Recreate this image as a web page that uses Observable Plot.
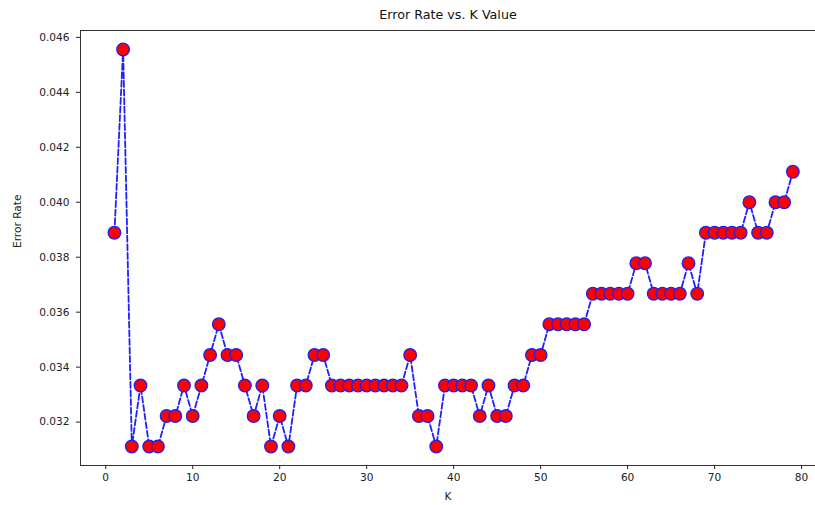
<!DOCTYPE html>
<html>
<head>
<meta charset="utf-8">
<script src="https://cdn.jsdelivr.net/npm/d3@7"></script>
<script src="https://cdn.jsdelivr.net/npm/@observablehq/plot@0.6"></script>
<style>
  html, body { margin: 0; padding: 0; background: #fff; }
  svg { display: block; }
</style>
</head>
<body>
<div id="chart"></div>
<script>
const kValues = [
   1,  2,  3,  4,  5,  6,  7,  8,  9, 10,
  11, 12, 13, 14, 15, 16, 17, 18, 19, 20,
  21, 22, 23, 24, 25, 26, 27, 28, 29, 30,
  31, 32, 33, 34, 35, 36, 37, 38, 39, 40,
  41, 42, 43, 44, 45, 46, 47, 48, 49, 50,
  51, 52, 53, 54, 55, 56, 57, 58, 59, 60,
  61, 62, 63, 64, 65, 66, 67, 68, 69, 70,
  71, 72, 73, 74, 75, 76, 77, 78, 79
];
const errorRates = [
  0.03889, 0.04556, 0.03111, 0.03333, 0.03111, 0.03111, 0.03222, 0.03222, 0.03333, 0.03222,
  0.03333, 0.03444, 0.03556, 0.03444, 0.03444, 0.03333, 0.03222, 0.03333, 0.03111, 0.03222,
  0.03111, 0.03333, 0.03333, 0.03444, 0.03444, 0.03333, 0.03333, 0.03333, 0.03333, 0.03333,
  0.03333, 0.03333, 0.03333, 0.03333, 0.03444, 0.03222, 0.03222, 0.03111, 0.03333, 0.03333,
  0.03333, 0.03333, 0.03222, 0.03333, 0.03222, 0.03222, 0.03333, 0.03333, 0.03444, 0.03444,
  0.03556, 0.03556, 0.03556, 0.03556, 0.03556, 0.03667, 0.03667, 0.03667, 0.03667, 0.03667,
  0.03778, 0.03778, 0.03667, 0.03667, 0.03667, 0.03667, 0.03778, 0.03667, 0.03889, 0.03889,
  0.03889, 0.03889, 0.03889, 0.04000, 0.03889, 0.03889, 0.04000, 0.04000, 0.04111
];
const xTicks = [0, 10, 20, 30, 40, 50, 60, 70, 80];
const yTicks = [0.032, 0.034, 0.036, 0.038, 0.040, 0.042, 0.044, 0.046];
const titleText = "Error Rate vs. K Value";
const xLabel = "K";
const yLabel = "Error Rate";

const data = kValues.map((k, i) => ({k, err: errorRates[i]}));

const xDomain = [-2.9, 81.6];
const yDomain = [0.03042, 0.04625];

const font = "DejaVu Sans, sans-serif";
const spine = "#333";

const chart = Plot.plot({
  width: 815,
  height: 505,
  marginLeft: 80,
  marginRight: 0,
  marginTop: 30,
  marginBottom: 40,
  style: {fontFamily: font, fontSize: "10.6px", color: "#222", background: "#fff"},
  x: {domain: xDomain, ticks: xTicks, tickSize: 4, tickPadding: 4, label: null},
  y: {domain: yDomain, ticks: yTicks, tickSize: 4, tickPadding: 7, tickFormat: d3.format(".3f"), label: null},
  marks: [
    Plot.ruleX([xDomain[0]], {stroke: spine, strokeWidth: 1}),
    Plot.ruleY([yDomain[0]], {stroke: spine, strokeWidth: 1}),
    Plot.ruleY([yDomain[1]], {stroke: spine, strokeWidth: 1}),
    Plot.line(data, {x: "k", y: "err", stroke: "#1f1fff", strokeWidth: 1.8, strokeDasharray: "6,2.6"}),
    Plot.dot(data, {x: "k", y: "err", r: 6.3, fill: "red", stroke: "#2020ee", strokeWidth: 1.3}),
    Plot.text([titleText], {frameAnchor: "top", dy: -21, fontSize: 12.7, fill: "#111", fontFamily: font}),
    Plot.text([xLabel], {frameAnchor: "bottom", dy: 34, fontSize: 10.6, fill: "#222", fontFamily: font}),
    Plot.text([yLabel], {frameAnchor: "left", dx: -63, rotate: -90, fontSize: 10.6, fill: "#222", fontFamily: font})
  ]
});
document.getElementById("chart").appendChild(chart);
</script>
</body>
</html>
